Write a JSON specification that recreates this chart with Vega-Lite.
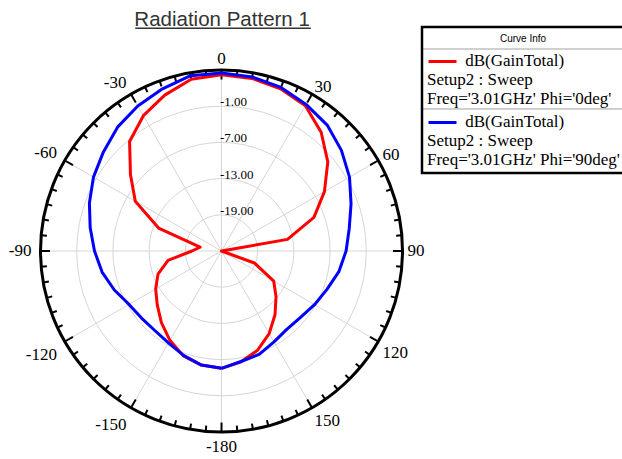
{
  "$schema": "https://vega.github.io/schema/vega-lite/v6.json",
  "width": 362,
  "height": 362,
  "autosize": {"type": "none"},
  "padding": {"left": 40.5, "top": 70, "right": 219.5, "bottom": 27},
  "background": "white",
  "config": {"view": {"stroke": null}},
  "layer": [
    {
      "data": {"values": [{"level": -19}, {"level": -13}, {"level": -7}, {"level": -1}]},
      "transform": [{"calculate": "datum.level + 25", "as": "r"}, {"calculate": "0", "as": "c"}],
      "mark": {"type": "point", "shape": "circle", "filled": false, "stroke": "#d6d6d6", "strokeWidth": 1, "opacity": 1},
      "encoding": {
        "x": {"field": "c", "type": "quantitative", "scale": {"domain": [-30, 30], "nice": false, "zero": false}, "axis": null},
        "y": {"field": "c", "type": "quantitative", "scale": {"domain": [-30, 30], "nice": false, "zero": false}, "axis": null},
        "size": {"field": "r", "type": "quantitative", "scale": {"type": "pow", "exponent": 2, "domain": [0, 30], "range": [0, 131044], "zero": true, "nice": false}, "legend": null}
      }
    },
    {
      "data": {"values": [{"angle": 0}, {"angle": 30}, {"angle": 60}, {"angle": 90}, {"angle": 120}, {"angle": 150}, {"angle": 180}, {"angle": 210}, {"angle": 240}, {"angle": 270}, {"angle": 300}, {"angle": 330}]},
      "transform": [
        {"calculate": "0", "as": "c"},
        {"calculate": "30*sin(datum.angle*PI/180)", "as": "sx"},
        {"calculate": "30*cos(datum.angle*PI/180)", "as": "sy"}
      ],
      "mark": {"type": "rule", "stroke": "#d6d6d6", "strokeWidth": 1},
      "encoding": {
        "x": {"field": "c", "type": "quantitative"},
        "y": {"field": "c", "type": "quantitative"},
        "x2": {"field": "sx"},
        "y2": {"field": "sy"}
      }
    },
    {
      "data": {"values": [{"level": -19, "label": "-19.00"}, {"level": -13, "label": "-13.00"}, {"level": -7, "label": "-7.00"}, {"level": -1, "label": "-1.00"}]},
      "transform": [{"calculate": "datum.level + 25", "as": "r"}, {"calculate": "0", "as": "c"}],
      "mark": {"type": "text", "align": "left", "baseline": "alphabetic", "dx": -1.5, "font": "Liberation Serif", "fontSize": 13, "color": "black"},
      "encoding": {
        "x": {"field": "c", "type": "quantitative"},
        "y": {"field": "r", "type": "quantitative"},
        "text": {"field": "label"}
      }
    },
    {
      "data": {"values": [{"ring": "outer"}]},
      "transform": [{"calculate": "30", "as": "r"}, {"calculate": "0", "as": "c"}],
      "mark": {"type": "point", "shape": "circle", "filled": false, "stroke": "black", "strokeWidth": 3, "opacity": 1},
      "encoding": {
        "x": {"field": "c", "type": "quantitative"},
        "y": {"field": "c", "type": "quantitative"},
        "size": {"field": "r", "type": "quantitative", "legend": null}
      }
    },
    {
      "data": {"values": [
        {"a": 0}, {"a": 5}, {"a": 10}, {"a": 15}, {"a": 20}, {"a": 25}, {"a": 30}, {"a": 35}, {"a": 40}, {"a": 45}, {"a": 50}, {"a": 55},
        {"a": 60}, {"a": 65}, {"a": 70}, {"a": 75}, {"a": 80}, {"a": 85}, {"a": 90}, {"a": 95}, {"a": 100}, {"a": 105}, {"a": 110}, {"a": 115},
        {"a": 120}, {"a": 125}, {"a": 130}, {"a": 135}, {"a": 140}, {"a": 145}, {"a": 150}, {"a": 155}, {"a": 160}, {"a": 165}, {"a": 170}, {"a": 175},
        {"a": 180}, {"a": 185}, {"a": 190}, {"a": 195}, {"a": 200}, {"a": 205}, {"a": 210}, {"a": 215}, {"a": 220}, {"a": 225}, {"a": 230}, {"a": 235},
        {"a": 240}, {"a": 245}, {"a": 250}, {"a": 255}, {"a": 260}, {"a": 265}, {"a": 270}, {"a": 275}, {"a": 280}, {"a": 285}, {"a": 290}, {"a": 295},
        {"a": 300}, {"a": 305}, {"a": 310}, {"a": 315}, {"a": 320}, {"a": 325}, {"a": 330}, {"a": 335}, {"a": 340}, {"a": 345}, {"a": 350}, {"a": 355}
      ]},
      "transform": [
        {"calculate": "datum.a % 30 == 0 ? 28.43 : 29.05", "as": "rin"},
        {"calculate": "datum.rin*sin(datum.a*PI/180)", "as": "tx1"},
        {"calculate": "datum.rin*cos(datum.a*PI/180)", "as": "ty1"},
        {"calculate": "30*sin(datum.a*PI/180)", "as": "tx2"},
        {"calculate": "30*cos(datum.a*PI/180)", "as": "ty2"}
      ],
      "mark": {"type": "rule", "stroke": "black", "strokeWidth": 2},
      "encoding": {
        "x": {"field": "tx1", "type": "quantitative"},
        "y": {"field": "ty1", "type": "quantitative"},
        "x2": {"field": "tx2"},
        "y2": {"field": "ty2"}
      }
    },
    {
      "data": {"values": [
        {"angle": 0, "label": "0"}, {"angle": 30, "label": "30"}, {"angle": 60, "label": "60"},
        {"angle": 90, "label": "90"}, {"angle": 120, "label": "120"}, {"angle": 150, "label": "150"},
        {"angle": 180, "label": "-180"}, {"angle": -150, "label": "-150"}, {"angle": -120, "label": "-120"},
        {"angle": -90, "label": "-90"}, {"angle": -60, "label": "-60"}, {"angle": -30, "label": "-30"}
      ]},
      "transform": [
        {"calculate": "sin(datum.angle*PI/180)", "as": "s"},
        {"calculate": "cos(datum.angle*PI/180)", "as": "co"},
        {"calculate": "(datum.s < -0.01 || datum.co < -0.99) ? 190 : 186", "as": "R"},
        {"calculate": "length(datum.label)*8.5 - (indexof(datum.label, '-') == 0 ? 2.8 : 0)", "as": "w"},
        {"calculate": "datum.s > 0.01 ? datum.w/2 : (datum.s < -0.01 ? -datum.w/2 : 0)", "as": "dxs"},
        {"calculate": "datum.co < -0.99 ? 6 : (datum.co > 0.99 ? -6 : (datum.co < -0.01 ? 9 : (abs(datum.s) > 0.99 ? 0 : -3)))", "as": "dys"},
        {"calculate": "(datum.R*datum.s + datum.dxs)/6.0333", "as": "lx"},
        {"calculate": "(datum.R*datum.co - datum.dys)/6.0333", "as": "ly"}
      ],
      "mark": {"type": "text", "align": "center", "baseline": "middle", "font": "Liberation Serif", "fontSize": 17, "color": "black"},
      "encoding": {
        "x": {"field": "lx", "type": "quantitative"},
        "y": {"field": "ly", "type": "quantitative"},
        "text": {"field": "label"}
      }
    },
    {
      "data": {"values": [{"title": "Radiation Pattern 1"}]},
      "transform": [{"calculate": "0.1", "as": "tx"}, {"calculate": "37.29", "as": "ty"}],
      "mark": {"type": "text", "align": "center", "baseline": "alphabetic", "font": "Liberation Sans", "fontSize": 20.5, "color": "#333333"},
      "encoding": {
        "x": {"field": "tx", "type": "quantitative"},
        "y": {"field": "ty", "type": "quantitative"},
        "text": {"field": "title"}
      }
    },
    {
      "data": {"values": [{"line": "title underline"}]},
      "transform": [{"calculate": "-14.3", "as": "x1"}, {"calculate": "14.8", "as": "x2"}, {"calculate": "36.9", "as": "y1"}],
      "mark": {"type": "rule", "stroke": "#333333", "strokeWidth": 1.5},
      "encoding": {
        "x": {"field": "x1", "type": "quantitative"},
        "x2": {"field": "x2"},
        "y": {"field": "y1", "type": "quantitative"}
      }
    },
    {
      "data": {"values": [{"line": "header"}, {"line": "separator"}]},
      "transform": [
        {"calculate": "datum.line == 'header' ? 33.48 : 23.54", "as": "y1"},
        {"calculate": "33.3", "as": "x1"},
        {"calculate": "70", "as": "x2"}
      ],
      "mark": {"type": "rule", "stroke": "#a0a0a0", "strokeWidth": 1},
      "encoding": {
        "x": {"field": "x1", "type": "quantitative"},
        "x2": {"field": "x2"},
        "y": {"field": "y1", "type": "quantitative"}
      }
    },
    {
      "data": {"values": [
        {"series": "0deg", "angle": -180, "db": -5.55}, {"series": "0deg", "angle": -170, "db": -5.8},
        {"series": "0deg", "angle": -160, "db": -6.5}, {"series": "0deg", "angle": -150, "db": -7.9},
        {"series": "0deg", "angle": -140, "db": -9.5}, {"series": "0deg", "angle": -130, "db": -11.1},
        {"series": "0deg", "angle": -120, "db": -12.4}, {"series": "0deg", "angle": -110, "db": -13.8},
        {"series": "0deg", "angle": -100, "db": -16.0}, {"series": "0deg", "angle": -90, "db": -20.1},
        {"series": "0deg", "angle": -80, "db": -21.4}, {"series": "0deg", "angle": -70, "db": -13.9},
        {"series": "0deg", "angle": -60, "db": -8.5}, {"series": "0deg", "angle": -50, "db": -5.3},
        {"series": "0deg", "angle": -40, "db": -1.3}, {"series": "0deg", "angle": -30, "db": 0.9},
        {"series": "0deg", "angle": -20, "db": 2.5}, {"series": "0deg", "angle": -10, "db": 3.9},
        {"series": "0deg", "angle": 0, "db": 4.2}, {"series": "0deg", "angle": 10, "db": 4.05},
        {"series": "0deg", "angle": 20, "db": 3.6}, {"series": "0deg", "angle": 30, "db": 2.8},
        {"series": "0deg", "angle": 40, "db": 0.7}, {"series": "0deg", "angle": 50, "db": -2.0},
        {"series": "0deg", "angle": 60, "db": -5.3}, {"series": "0deg", "angle": 70, "db": -8.7},
        {"series": "0deg", "angle": 80, "db": -13.9}, {"series": "0deg", "angle": 90, "db": -25},
        {"series": "0deg", "angle": 100, "db": -25}, {"series": "0deg", "angle": 110, "db": -19.2},
        {"series": "0deg", "angle": 120, "db": -15.0}, {"series": "0deg", "angle": 130, "db": -13.2},
        {"series": "0deg", "angle": 140, "db": -11.2}, {"series": "0deg", "angle": 150, "db": -9.2},
        {"series": "0deg", "angle": 160, "db": -7.5}, {"series": "0deg", "angle": 170, "db": -6.35},
        {"series": "0deg", "angle": 180, "db": -5.55},
        {"series": "90deg", "angle": -180, "db": -5.55}, {"series": "90deg", "angle": -170, "db": -5.8},
        {"series": "90deg", "angle": -160, "db": -6.6}, {"series": "90deg", "angle": -150, "db": -7.4},
        {"series": "90deg", "angle": -140, "db": -7.8}, {"series": "90deg", "angle": -130, "db": -7.7},
        {"series": "90deg", "angle": -120, "db": -7.3}, {"series": "90deg", "angle": -110, "db": -6.1},
        {"series": "90deg", "angle": -100, "db": -4.9}, {"series": "90deg", "angle": -90, "db": -3.95},
        {"series": "90deg", "angle": -80, "db": -2.9}, {"series": "90deg", "angle": -70, "db": -1.7},
        {"series": "90deg", "angle": -60, "db": -0.5}, {"series": "90deg", "angle": -50, "db": 0.55},
        {"series": "90deg", "angle": -40, "db": 1.8}, {"series": "90deg", "angle": -30, "db": 2.75},
        {"series": "90deg", "angle": -20, "db": 3.6}, {"series": "90deg", "angle": -10, "db": 4.5},
        {"series": "90deg", "angle": 0, "db": 4.5}, {"series": "90deg", "angle": 10, "db": 4.3},
        {"series": "90deg", "angle": 20, "db": 3.85}, {"series": "90deg", "angle": 30, "db": 3.05},
        {"series": "90deg", "angle": 40, "db": 2.25}, {"series": "90deg", "angle": 50, "db": 0.95},
        {"series": "90deg", "angle": 60, "db": -0.5}, {"series": "90deg", "angle": 70, "db": -2.15},
        {"series": "90deg", "angle": 80, "db": -3.5}, {"series": "90deg", "angle": 90, "db": -4.35},
        {"series": "90deg", "angle": 100, "db": -5.25}, {"series": "90deg", "angle": 110, "db": -6.4},
        {"series": "90deg", "angle": 120, "db": -7.2}, {"series": "90deg", "angle": 130, "db": -7.9},
        {"series": "90deg", "angle": 140, "db": -8.1}, {"series": "90deg", "angle": 150, "db": -7.6},
        {"series": "90deg", "angle": 160, "db": -6.75}, {"series": "90deg", "angle": 170, "db": -6.4},
        {"series": "90deg", "angle": 180, "db": -5.55}
      ]},
      "transform": [
        {"calculate": "max(datum.db + 25, 0)", "as": "r"},
        {"calculate": "datum.r*sin(datum.angle*PI/180)", "as": "px"},
        {"calculate": "datum.r*cos(datum.angle*PI/180)", "as": "py"}
      ],
      "mark": {"type": "line", "strokeWidth": 3, "strokeJoin": "round"},
      "encoding": {
        "x": {"field": "px", "type": "quantitative"},
        "y": {"field": "py", "type": "quantitative"},
        "order": {"field": "angle", "type": "quantitative"},
        "color": {
          "field": "series",
          "type": "nominal",
          "scale": {"domain": ["0deg", "90deg"], "range": ["#ff0000", "#0000ff"]},
          "legend": {
            "orient": "none",
            "legendX": 381.5,
            "legendY": -43,
            "title": "Curve Info",
            "titleFont": "Liberation Sans",
            "titleFontSize": 10,
            "titleFontWeight": "normal",
            "titleColor": "black",
            "titleAnchor": "middle",
            "titlePadding": 4,
            "labelFont": "Liberation Serif",
            "labelFontSize": 17,
            "labelColor": "black",
            "labelLineHeight": 18,
            "labelBaseline": "top",
            "labelLimit": 400,
            "labelOffset": -31,
            "labelExpr": "datum.value == '0deg' ? ['\u200b\u00a0\u00a0\u00a0\u00a0\u00a0\u00a0\u00a0\u00a0\u00a0dB(GainTotal)', 'Setup2 : Sweep', \"Freq='3.01GHz' Phi='0deg'\"] : ['\u200b\u00a0\u00a0\u00a0\u00a0\u00a0\u00a0\u00a0\u00a0\u00a0dB(GainTotal)', 'Setup2 : Sweep', \"Freq='3.01GHz' Phi='90deg'\"]",
            "symbolType": "stroke",
            "symbolSize": 784,
            "symbolStrokeWidth": 3,
            "rowPadding": -1,
            "padding": 5,
            "strokeColor": "black",
            "encode": {
              "labels": {"update": {"dy": {"value": -9}}},
              "title": {"update": {"dy": {"value": 2}}},
              "legend": {"update": {"strokeWidth": {"value": 2.5}}}
            }
          }
        }
      }
    }
  ]
}
